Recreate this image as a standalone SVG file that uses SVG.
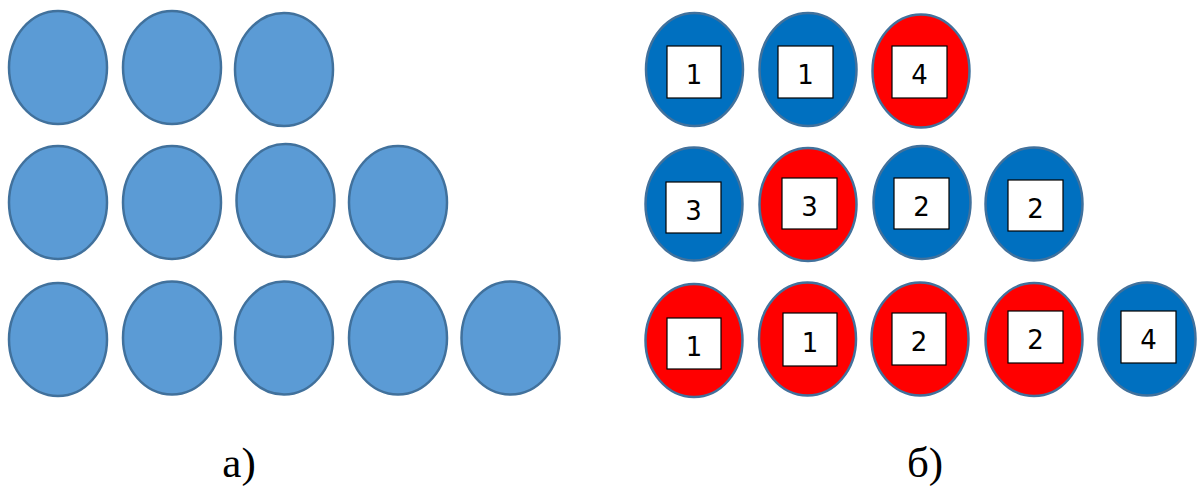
<svg xmlns="http://www.w3.org/2000/svg" width="1197" height="486" viewBox="0 0 1197 486">
<style>
.l{fill:#5B9BD5;stroke:#41719C;stroke-width:2.5}
.b{fill:#0070C0;stroke:#41719C;stroke-width:2.5}
.r{fill:#FF0000;stroke:#41719C;stroke-width:2.5}
.s{fill:#FFFFFF;stroke:#000000;stroke-width:1.2}
.n{font-family:"DejaVu Sans",sans-serif;font-size:26px;fill:#000000;text-anchor:middle}
.lab{font-family:"Liberation Serif",serif;font-size:43px;fill:#000000;text-anchor:middle}
</style>
<rect width="1197" height="486" fill="#FFFFFF"/>
<g id="panel-a">
<g id="a-r1c1"><ellipse class="l" cx="58" cy="67.5" rx="49" ry="56.5"/></g>
<g id="a-r1c2"><ellipse class="l" cx="172" cy="67.5" rx="49" ry="56.5"/></g>
<g id="a-r1c3"><ellipse class="l" cx="284" cy="69.5" rx="49" ry="56.5"/></g>
<g id="a-r2c1"><ellipse class="l" cx="58" cy="202.5" rx="49" ry="56.5"/></g>
<g id="a-r2c2"><ellipse class="l" cx="172" cy="202.5" rx="49" ry="56.5"/></g>
<g id="a-r2c3"><ellipse class="l" cx="285.5" cy="200.5" rx="49" ry="56.5"/></g>
<g id="a-r2c4"><ellipse class="l" cx="398" cy="202.5" rx="49" ry="56.5"/></g>
<g id="a-r3c1"><ellipse class="l" cx="58" cy="339.5" rx="49" ry="56.5"/></g>
<g id="a-r3c2"><ellipse class="l" cx="172" cy="338" rx="49" ry="56.5"/></g>
<g id="a-r3c3"><ellipse class="l" cx="284" cy="338" rx="49" ry="56.5"/></g>
<g id="a-r3c4"><ellipse class="l" cx="398" cy="338" rx="49" ry="56.5"/></g>
<g id="a-r3c5"><ellipse class="l" cx="510.5" cy="338" rx="49" ry="56.5"/></g>
</g>
<g id="panel-b">
<g id="b-r1c1"><ellipse class="b" cx="694.5" cy="69.5" rx="48.5" ry="56.5"/><rect class="s" x="667" y="46" width="54" height="52"/><text class="n" x="694" y="84">1</text></g>
<g id="b-r1c2"><ellipse class="b" cx="808" cy="69.5" rx="48.5" ry="56.5"/><rect class="s" x="778" y="46" width="55" height="52"/><text class="n" x="805.5" y="84">1</text></g>
<g id="b-r1c3"><ellipse class="r" cx="921" cy="71" rx="48.5" ry="56.5"/><rect class="s" x="892" y="46" width="55" height="52"/><text class="n" x="919.5" y="84">4</text></g>
<g id="b-r2c1"><ellipse class="b" cx="694" cy="204" rx="48.5" ry="56.5"/><rect class="s" x="666" y="182" width="55" height="51"/><text class="n" x="693.5" y="220">3</text></g>
<g id="b-r2c2"><ellipse class="r" cx="808" cy="204.5" rx="48.5" ry="56.5"/><rect class="s" x="782" y="178" width="55" height="51"/><text class="n" x="809.5" y="216">3</text></g>
<g id="b-r2c3"><ellipse class="b" cx="922" cy="202.5" rx="48.5" ry="56.5"/><rect class="s" x="894" y="178" width="55" height="51"/><text class="n" x="921.5" y="216">2</text></g>
<g id="b-r2c4"><ellipse class="b" cx="1034" cy="204" rx="48.5" ry="56.5"/><rect class="s" x="1008" y="180" width="55" height="51"/><text class="n" x="1035.5" y="218">2</text></g>
<g id="b-r3c1"><ellipse class="r" cx="694" cy="340.5" rx="48.5" ry="56.5"/><rect class="s" x="667" y="318" width="54" height="51"/><text class="n" x="694" y="356">1</text></g>
<g id="b-r3c2"><ellipse class="r" cx="807.5" cy="339" rx="48.5" ry="56.5"/><rect class="s" x="783" y="313" width="54" height="53"/><text class="n" x="810" y="352">1</text></g>
<g id="b-r3c3"><ellipse class="r" cx="920" cy="339" rx="48.5" ry="56.5"/><rect class="s" x="892" y="313" width="54" height="52"/><text class="n" x="919" y="351">2</text></g>
<g id="b-r3c4"><ellipse class="r" cx="1034" cy="339.5" rx="48.5" ry="56.5"/><rect class="s" x="1008" y="311" width="55" height="52"/><text class="n" x="1035.5" y="349">2</text></g>
<g id="b-r3c5"><ellipse class="b" cx="1147" cy="339" rx="48.5" ry="56.5"/><rect class="s" x="1121" y="311" width="55" height="52"/><text class="n" x="1148.5" y="349">4</text></g>
</g>
<g id="connectors"/>
<g id="labels">
<text class="lab" x="239" y="477">а)</text>
<text class="lab" x="925" y="477">б)</text>
</g>
</svg>
